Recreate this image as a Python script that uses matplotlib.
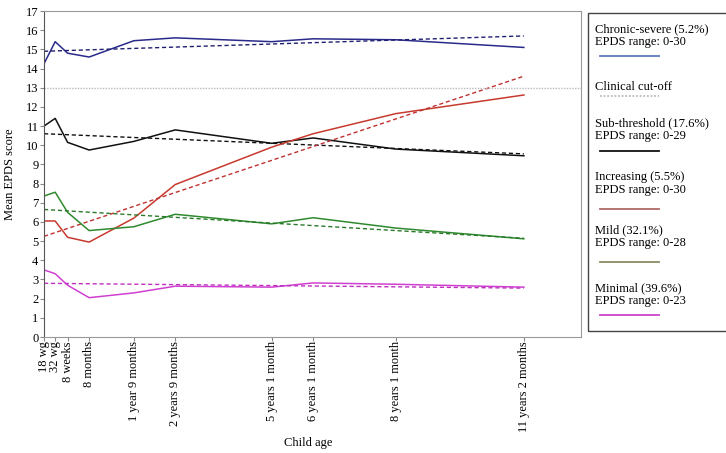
import numpy as np
import matplotlib.pyplot as plt

plt.rcParams['font.family'] = ['Liberation Serif', 'DejaVu Serif']

# child age in years (negative = weeks of gestation)
ages = [-0.42, -0.15, 0.15, 0.67, 1.75, 2.75, 5.08, 6.08, 8.08, 11.17]
age_labels = ['18 wg', '32 wg', '8 weeks', '8 months', '1 year 9 months',
              '2 years 9 months', '5 years 1 month', '6 years 1 month',
              '8 years 1 month', '11 years 2 months']

chronic = [14.25, 15.4, 14.8, 14.6, 15.45, 15.6, 15.4, 15.55, 15.5, 15.1]
subthreshold = [11.0, 11.4, 10.15, 9.75, 10.2, 10.8, 10.1, 10.38, 9.8, 9.45]
increasing = [6.05, 6.05, 5.2, 4.95, 6.2, 7.95, 9.9, 10.6, 11.65, 12.62]
mild = [7.35, 7.55, 6.5, 5.55, 5.75, 6.4, 5.9, 6.22, 5.68, 5.12]
minimal = [3.5, 3.3, 2.7, 2.05, 2.3, 2.65, 2.6, 2.82, 2.75, 2.6]

# linear trend lines: value at first and last time point
trend_start = [14.9, 10.6, 5.25, 6.65, 2.8]
trend_end = [15.7, 9.55, 13.6, 5.15, 2.55]

cutoff = 13

line_colors = ['#2a2a8a', '#111111', '#c8392e', '#2f8a2f', '#d040d0']
trend_colors = ['#202070', '#111111', '#c03030', '#2a7a2a', '#c030c0']
legend_colors = ['#5a7db5', '#111111', '#b06a66', '#8a8a60', '#cc44cc']
legend_names = ['Chronic-severe (5.2%)', 'Sub-threshold (17.6%)', 'Increasing (5.5%)',
                'Mild (32.1%)', 'Minimal (39.6%)']
legend_ranges = ['EPDS range: 0-30', 'EPDS range: 0-29', 'EPDS range: 0-30',
                 'EPDS range: 0-28', 'EPDS range: 0-23']

FS = 9
W, H = 726, 453
fig = plt.figure(figsize=(W / 100, H / 100), dpi=100)
ax = fig.add_axes([44 / W, 1 - 337 / H, (581 - 44) / W, (337 - 11) / H])

series = [chronic, subthreshold, increasing, mild, minimal]
for vals, c, tc, s, e in zip(series, line_colors, trend_colors, trend_start, trend_end):
    ax.plot(ages, vals, color=c, lw=1.1)
    ax.plot([ages[0], ages[-1]], [s, e], color=tc, lw=1.0, dashes=(3, 2))

ax.axhline(cutoff, color='#bbbbbb', lw=1.0, ls=(0, (1, 1)))

ax.set_xlim(-0.42, 12.55)
ax.set_ylim(0, 17)
ax.set_yticks(range(0, 18))
ax.set_xticks(ages)
ax.set_xticklabels(age_labels, rotation=90, fontsize=FS)
ax.tick_params(axis='y', labelsize=FS, length=3, color='#888888', pad=1)
ax.tick_params(axis='x', length=3, color='#888888', pad=0)
for sp in ax.spines.values():
    sp.set_color('#999999')
ax.spines['left'].set_color('#555555')

ax.set_ylabel('Mean EPDS score', fontsize=FS)
ax.yaxis.set_label_coords(-0.052, 0.5)
fig.text(308 / W, 1 - 443 / H, 'Child age', fontsize=FS, ha='center', va='center')

# legend box
box = plt.Rectangle((588 / W, 1 - 331 / H), 0.2, (331 - 13) / H, transform=fig.transFigure,
                    fill=False, ec='#444444', lw=1.0)
fig.patches.append(box)


def legend_entry(y1, y2, ysample, name, rng, color, style='-'):
    fig.text(595 / W, 1 - y1 / H, name, fontsize=FS, va='baseline')
    if rng:
        fig.text(595 / W, 1 - y2 / H, rng, fontsize=FS, va='baseline')
    fig.add_artist(plt.Line2D([600 / W, 659 / W], [1 - ysample / H] * 2,
                              transform=fig.transFigure, color=color, lw=1.3, ls=style))


# baseline of line 1, baseline of line 2, sample line (pixels from top)
rows = [(32, 45, 56), (126, 139, 151), (180, 193, 209), (233, 246, 262), (291, 304, 315)]
legend_entry(*rows[0], legend_names[0], legend_ranges[0], legend_colors[0])
legend_entry(90, None, 96, 'Clinical cut-off', None, '#bbbbbb', (0, (1, 1)))
for (y1, y2, ys), n, r, c in list(zip(rows, legend_names, legend_ranges, legend_colors))[1:]:
    legend_entry(y1, y2, ys, n, r, c)

fig.savefig('out.png', dpi=100)
